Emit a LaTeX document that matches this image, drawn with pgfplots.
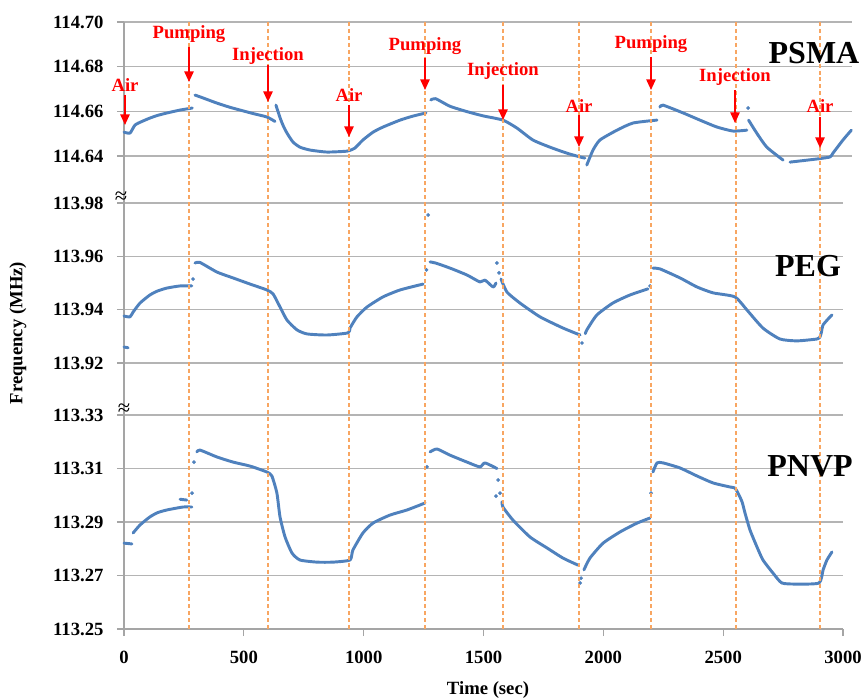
\documentclass[border=0pt]{standalone}
\usepackage{fontspec}
\setmainfont{Liberation Serif}
\usepackage{pgfplots}
\pgfplotsset{compat=1.18}
\usetikzlibrary{arrows.meta}

\definecolor{ptblue}{RGB}{79,129,189}
\definecolor{evorange}{RGB}{247,150,70}
\definecolor{gridgray}{RGB}{180,180,180}
\definecolor{axgray}{RGB}{165,165,165}

% y values: frequency shift in kHz above each panel's lowest grid line
% (PNVP: 113.25 MHz, PEG: 113.92 MHz, PSMA: 114.64 MHz)
\pgfplotsset{
  panel/.style={
    scale only axis, anchor=south west, clip=false,
    xmin=0, xmax=3000,
    axis lines*=left,
    axis line style={-, axgray, line width=0.9pt},
    tick align=outside, major tick length=5.25pt,
    tick style={axgray, line width=0.9pt},
    ymajorgrids, grid style={gridgray, line width=0.9pt},
    tick label style={font=\bfseries\fontsize{14}{16}\selectfont, black},
    yticklabel style={xshift=-6.6pt},
  },
  seg/.style={ptblue, line width=2.2pt, line join=round, line cap=round, mark=none, smooth, tension=0.35},
  dot/.style={ptblue, only marks, mark=*, mark size=1.2pt},
}

\begin{document}
\begin{tikzpicture}
\path[use as bounding box] (0,0) rectangle (648pt,-524.25pt);

% ---------- PNVP ----------
\begin{axis}[panel, at={(93pt,-471.75pt)}, width=539.25pt, height=160.5pt,
  ymin=0, ymax=80,
  ytick={0,20,40,60,80},
  yticklabels={113.25,113.27,113.29,113.31,113.33},
  xtick={0,500,1000,1500,2000,2500,3000},
  xticklabels={0,500,1000,1500,2000,2500,3000},
  xticklabel style={yshift=-7.9pt}]
\addplot[seg] coordinates {(0,32.1) (33,31.8)};
\addplot[seg] coordinates {(38,35.9) (67,38.9) (108,41.9) (140,43.5) (179,44.5) (246,45.6) (283,45.6)};
\addplot[seg] coordinates {(234,48.5) (262,48.2)};
\addplot[dot] coordinates {(284,50.8) (292,62.4)};
\addplot[seg] coordinates {(304,66.2) (317,66.9) (388,64.3) (455,62.4) (526,60.9) (596,58.7) (617,57.2) (638,50.8) (651,41.9) (672,34.4) (701,28.4) (734,25.8) (805,25.0) (872,25.0) (943,25.8) (955,29.5) (997,35.9) (1039,39.6) (1110,42.6) (1181,44.5) (1256,47.1)};
\addplot[dot] coordinates {(1264,60.6)};
\addplot[seg] coordinates {(1277,66.2) (1306,67.3) (1360,65.0) (1431,62.4) (1485,60.6) (1506,62.1) (1556,60.0)};
\addplot[dot] coordinates {(1561,55.7) (1552,49.7) (1569,50.8)};
\addplot[seg] coordinates {(1577,47.5) (1581,45.6) (1623,40.7) (1694,34.4) (1765,30.3) (1832,26.5) (1894,23.9)};
\addplot[dot] coordinates {(1903,17.2) (1907,19.0)};
\addplot[seg] coordinates {(1919,22.1) (1944,26.5) (1999,32.1) (2070,36.3) (2141,39.6) (2195,41.5)};
\addplot[dot] coordinates {(2199,50.8)};
\addplot[seg] coordinates {(2207,58.7) (2224,62.1) (2249,62.1) (2320,60.2) (2391,57.2) (2458,54.6) (2528,53.1) (2549,52.7) (2562,50.8) (2579,47.5) (2591,43.4) (2612,37.0) (2641,30.7) (2666,25.8) (2708,20.9) (2745,17.2) (2808,16.8) (2900,17.2) (2917,22.1) (2933,25.8) (2954,28.8)};
\end{axis}

% ---------- PEG ----------
\begin{axis}[panel, at={(93pt,-311.25pt)}, width=539.25pt, height=159pt,
  hide x axis,
  ymin=-19.5, ymax=60,
  ytick={0,20,40,60},
  yticklabels={113.92,113.94,113.96,113.98}]
\addplot[seg] coordinates {(0,6.0) (17,5.7)};
\addplot[seg] coordinates {(0,17.6) (25,17.3) (38,19.1) (67,22.5) (108,25.5) (140,27.0) (179,28.1) (234,28.9) (283,28.9)};
\addplot[dot] coordinates {(288,31.5)};
\addplot[seg] coordinates {(296,37.5) (317,37.7) (388,34.1) (455,31.9) (526,29.6) (596,27.4) (622,25.9) (651,21.0) (680,16.1) (722,12.4) (764,10.9) (847,10.5) (935,11.3) (943,13.1) (972,17.3) (1014,21.0) (1081,24.8) (1152,27.4) (1248,29.6)};
\addplot[dot] coordinates {(1269,55.5) (1262,34.9)};
\addplot[seg] coordinates {(1277,37.9) (1300,37.5) (1360,35.6) (1431,33.0) (1485,30.4) (1506,31.1) (1540,28.5) (1552,30.0)};
\addplot[dot] coordinates {(1556,37.5) (1565,33.8)};
\addplot[seg] coordinates {(1573,31.5) (1598,26.6) (1652,22.5) (1736,17.3) (1832,13.1) (1903,10.5)};
\addplot[dot] coordinates {(1911,7.5)};
\addplot[seg] coordinates {(1925,11.0) (1931,12.4) (1973,18.0) (2040,22.5) (2111,25.5) (2186,27.8)};
\addplot[dot] coordinates {(2195,28.9)};
\addplot[seg] coordinates {(2207,35.6) (2236,35.3) (2320,31.9) (2391,28.5) (2458,26.3) (2549,24.8) (2599,19.9) (2666,13.1) (2737,9.0) (2808,8.3) (2891,9.0) (2904,9.8) (2910,11.6) (2917,14.3) (2946,17.3) (2954,18.0)};
\end{axis}

% ---------- PSMA ----------
\begin{axis}[panel, at={(93pt,-152.25pt)}, width=546pt, height=135.75pt,
  hide x axis, xmax=3037.6,
  ymin=-21, ymax=60,
  ytick={0,20,40,60},
  yticklabels={114.64,114.66,114.68,114.70}]
\addplot[seg] coordinates {(0,10.7) (25,10.3) (46,13.9) (75,15.5) (108,17.0) (140,18.2) (180,19.3) (234,20.6) (285,21.5)};
\addplot[seg] coordinates {(296,27.3) (320,26.4) (388,23.7) (440,21.9) (484,20.6) (540,19.0) (596,17.5) (630,15.5)};
\addplot[seg] coordinates {(634,22.8) (650,17.5) (663,13.9) (680,10.3) (705,6.3) (734,4.0) (776,2.7) (847,1.8) (930,2.2) (955,3.1) (964,3.6) (997,7.2) (1039,10.7) (1081,13.0) (1152,16.1) (1206,17.9) (1260,19.3)};
\addplot[seg] coordinates {(1280,25.1) (1300,25.7) (1360,22.3) (1431,19.9) (1498,18.0) (1581,16.1) (1640,12.5) (1706,7.2) (1777,4.0) (1848,1.3) (1903,-0.4) (1923,-0.9)};
\addplot[seg] coordinates {(1931,-4.0) (1957,2.7) (1986,7.2) (2057,11.6) (2124,14.8) (2224,16.1)};
\addplot[seg] coordinates {(2236,21.9) (2249,22.8) (2333,19.3) (2403,16.1) (2474,13.0) (2541,11.2) (2599,11.6)};
\addplot[dot] coordinates {(2604,21.5)};
\addplot[seg] coordinates {(2606,16.1) (2640,10.3) (2682,4.0) (2750,-1.8)};
\addplot[seg] coordinates {(2779,-2.7) (2891,-1.3) (2946,-0.4) (2958,1.3) (3000,7.2) (3035,11.6)};
\end{axis}

% ---------- annotations (picture pixels) ----------
\begin{scope}[x=0.75pt, y=-0.75pt, font=\bfseries\fontsize{14}{16}\selectfont]
\foreach \xx in {189,268,349,425,503,579,651,736,820}
  \draw[evorange!85!white, line width=1.5pt, dash pattern=on 3pt off 2.2pt] (\xx,22) -- (\xx,629);

\foreach \xx/\yy/\ya/\yb/\txt in {125/92/95/125/Air, 189/39/47/82/Pumping, 268/61/65/102/Injection,
    349/102/105/137/Air, 425/51/58/90/Pumping, 503/76/85/120/Injection,
    579/113/115/147/Air, 651/49/57/90/Pumping, 735/82/90/123/Injection, 820/113/117/148/Air} {
  \node[red, anchor=base, inner sep=0pt] at (\xx,\yy) {\txt};
  \draw[red, line width=1.3pt, -{Triangle[length=8pt,width=7pt]}] (\xx,\ya) -- (\xx,\yb);
}

\node[anchor=base, inner sep=0pt, font=\bfseries\fontsize{24}{26}\selectfont] at (814,64) {PSMA};
\node[anchor=base, inner sep=0pt, font=\bfseries\fontsize{24}{26}\selectfont] at (808,276) {PEG};
\node[anchor=base, inner sep=0pt, font=\bfseries\fontsize{24}{26}\selectfont] at (810,476) {PNVP};

\node[font=\fontsize{17}{18}\selectfont] at (121,198) {≈};
\node[font=\fontsize{17}{18}\selectfont] at (124,410) {≈};

\node[rotate=90] at (18,333) {Frequency (MHz)};
\node at (488,690) {Time (sec)};
\end{scope}
\end{tikzpicture}
\end{document}
